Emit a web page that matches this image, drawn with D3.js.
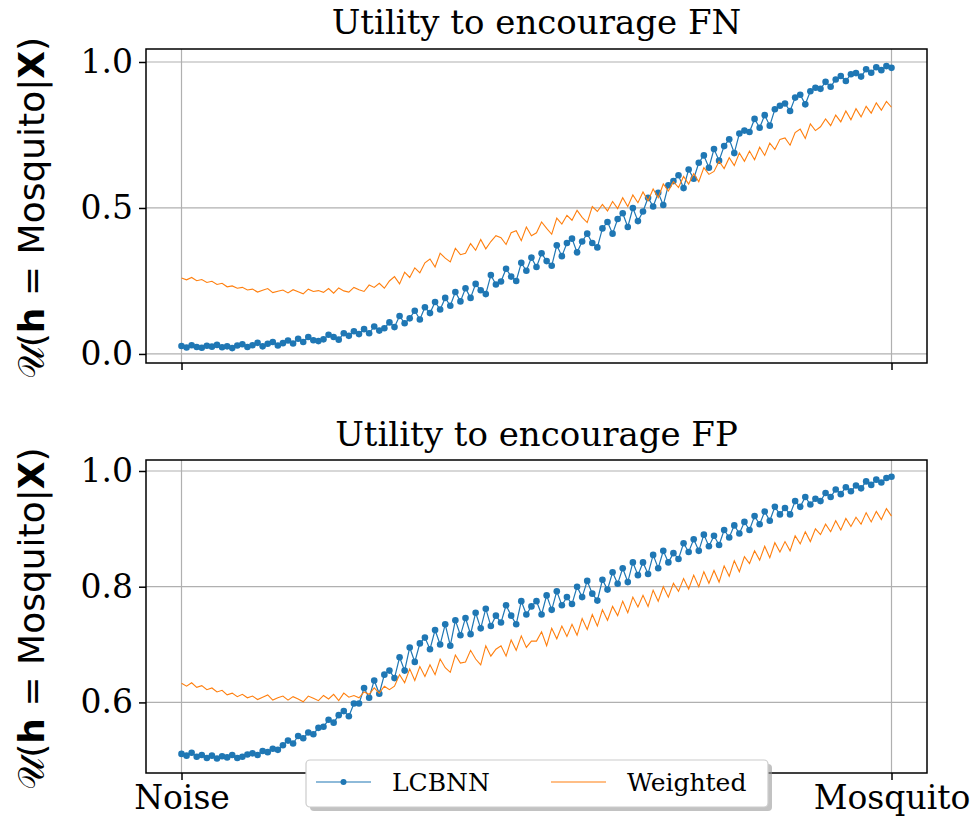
<!DOCTYPE html>
<html>
<head>
<meta charset="utf-8">
<script src="https://cdn.jsdelivr.net/npm/d3@7"></script>
<style>
  body { margin: 0; background: #fff; }
  svg { display: block; }
</style>
</head>
<body>
<div id="chart"></div>
<script>
// tick labels on the shared x axis
var xTickLabels = ['Noise', 'Mosquito'];
var seriesNames = ['LCBNN', 'Weighted'];
var panelTitles = ['Utility to encourage FN', 'Utility to encourage FP'];
var yTicksFN = [0.0, 0.5, 1.0];
var yTicksFP = [0.6, 0.8, 1.0];

// values, 141 samples from Noise to Mosquito
var lcbnnFN = [
  0.027,0.022,0.030,0.024,0.021,0.028,0.025, 0.031,0.023,0.026,0.020,0.029,0.033,0.024,
  0.030,0.038,0.026,0.035,0.041,0.029,0.037, 0.046,0.036,0.052,0.041,0.058,0.047,0.044,
  0.050,0.066,0.058,0.049,0.071,0.062,0.078, 0.068,0.085,0.071,0.094,0.080,0.088,0.108,
  0.092,0.130,0.105,0.122,0.148,0.118,0.160, 0.140,0.178,0.152,0.192,0.165,0.212,0.180,
  0.225,0.192,0.240,0.218,0.205,0.270,0.238, 0.248,0.292,0.265,0.250,0.312,0.285,0.330,
  0.298,0.345,0.318,0.302,0.372,0.335,0.380, 0.395,0.348,0.385,0.412,0.380,0.365,0.430,
  0.452,0.412,0.462,0.482,0.435,0.500,0.455, 0.488,0.535,0.505,0.552,0.510,0.578,0.592,
  0.612,0.568,0.632,0.600,0.655,0.680,0.638, 0.702,0.662,0.712,0.735,0.688,0.755,0.765,
  0.760,0.805,0.775,0.818,0.782,0.838,0.850, 0.858,0.832,0.878,0.888,0.855,0.900,0.912,
  0.908,0.932,0.915,0.940,0.952,0.935,0.958, 0.962,0.950,0.975,0.963,0.982,0.972,0.986,
  0.980
];
var weightedFN = [
  0.260,0.254,0.262,0.251,0.255,0.245,0.249, 0.238,0.242,0.230,0.233,0.225,0.228,0.219,
  0.222,0.212,0.218,0.224,0.210,0.215,0.219, 0.209,0.220,0.213,0.206,0.222,0.214,0.217,
  0.211,0.224,0.208,0.226,0.216,0.212,0.228, 0.220,0.214,0.236,0.228,0.242,0.225,0.250,
  0.265,0.240,0.280,0.262,0.295,0.278,0.312, 0.325,0.298,0.345,0.328,0.315,0.362,0.340,
  0.345,0.378,0.355,0.392,0.360,0.385,0.405, 0.398,0.375,0.415,0.422,0.388,0.435,0.405,
  0.415,0.452,0.430,0.410,0.465,0.445,0.475, 0.458,0.492,0.468,0.450,0.505,0.488,0.512,
  0.490,0.522,0.498,0.535,0.505,0.545,0.518, 0.555,0.525,0.565,0.535,0.582,0.558,0.590,
  0.570,0.608,0.582,0.618,0.590,0.638,0.615, 0.625,0.660,0.635,0.672,0.645,0.688,0.660,
  0.695,0.665,0.708,0.680,0.722,0.700,0.735, 0.740,0.715,0.758,0.770,0.738,0.788,0.765,
  0.778,0.805,0.782,0.818,0.795,0.832,0.802, 0.840,0.812,0.848,0.825,0.860,0.835,0.865,
  0.845
];
var lcbnnFP = [
  0.511,0.508,0.513,0.506,0.509,0.504,0.508, 0.503,0.507,0.505,0.509,0.504,0.506,0.510,
  0.512,0.509,0.516,0.514,0.520,0.518,0.526, 0.534,0.529,0.542,0.538,0.548,0.545,0.556,
  0.558,0.570,0.565,0.578,0.585,0.576,0.598, 0.598,0.625,0.608,0.638,0.615,0.648,0.655,
  0.642,0.678,0.655,0.695,0.670,0.702,0.712, 0.692,0.725,0.700,0.735,0.698,0.742,0.716,
  0.746,0.718,0.755,0.728,0.762,0.732,0.750, 0.738,0.768,0.750,0.735,0.775,0.752,0.766,
  0.775,0.752,0.785,0.760,0.792,0.768,0.782, 0.770,0.800,0.782,0.810,0.788,0.776,0.812,
  0.795,0.825,0.805,0.832,0.808,0.842,0.820, 0.842,0.822,0.855,0.832,0.862,0.842,0.858,
  0.848,0.875,0.860,0.882,0.862,0.890,0.870, 0.888,0.872,0.898,0.885,0.906,0.892,0.912,
  0.898,0.922,0.908,0.930,0.914,0.938,0.925, 0.936,0.925,0.948,0.938,0.955,0.942,0.952,
  0.948,0.962,0.955,0.968,0.960,0.972,0.965, 0.975,0.970,0.982,0.976,0.985,0.980,0.988,
  0.990
];
var weightedFP = [
  0.633,0.628,0.634,0.626,0.629,0.622,0.625, 0.618,0.621,0.613,0.616,0.610,0.614,0.608,
  0.611,0.605,0.609,0.613,0.604,0.608,0.611, 0.604,0.610,0.606,0.601,0.611,0.607,0.603,
  0.612,0.606,0.614,0.603,0.616,0.609,0.612, 0.608,0.618,0.614,0.625,0.616,0.628,0.622,
  0.628,0.648,0.634,0.658,0.638,0.662,0.645, 0.665,0.648,0.675,0.660,0.652,0.682,0.668,
  0.670,0.690,0.675,0.665,0.698,0.680,0.692, 0.698,0.680,0.708,0.690,0.715,0.695,0.706,
  0.706,0.722,0.698,0.728,0.710,0.732,0.714, 0.735,0.716,0.745,0.726,0.752,0.732,0.760,
  0.742,0.766,0.750,0.775,0.755,0.782,0.765, 0.785,0.766,0.794,0.775,0.800,0.782,0.806,
  0.792,0.814,0.796,0.820,0.800,0.826,0.806, 0.828,0.808,0.836,0.818,0.845,0.826,0.852,
  0.840,0.862,0.846,0.870,0.850,0.876,0.860, 0.878,0.862,0.888,0.874,0.895,0.878,0.900,
  0.890,0.908,0.895,0.914,0.898,0.918,0.904, 0.920,0.908,0.928,0.912,0.930,0.916,0.935,
  0.922
];

var width = 973, height = 821;
var blue = '#1f77b4', orange = '#ff7f0e';
var serif = 'DejaVu Serif, serif';

var svg = d3.select('#chart').append('svg')
    .attr('width', width)
    .attr('height', height);

var x = d3.scaleLinear().domain([-0.05, 1.05]).range([146, 927]);

// panel layout
var panels = [
  { title: panelTitles[0], top: 49, bottom: 363, domain: [-0.031, 1.0445], ticks: yTicksFN,
    a: lcbnnFN, b: weightedFN, showX: false, titleY: 34 },
  { title: panelTitles[1], top: 460, bottom: 773, domain: [0.478, 1.019], ticks: yTicksFP,
    a: lcbnnFP, b: weightedFP, showX: true, titleY: 446 }
];

panels.forEach(function(p, k) {
  var y = d3.scaleLinear().domain(p.domain).range([p.bottom, p.top]);
  var g = svg.append('g');
  var n = p.a.length;
  var pos = function(i) { return i / (n - 1); };

  // grid
  g.append('g').selectAll('line.hg')
    .data(p.ticks).enter().append('line')
    .attr('x1', x.range()[0]).attr('x2', x.range()[1])
    .attr('y1', d => y(d)).attr('y2', d => y(d))
    .attr('stroke', '#b0b0b0').attr('stroke-width', 1.2);
  g.append('g').selectAll('line.vg')
    .data([0, 1]).enter().append('line')
    .attr('x1', d => x(d)).attr('x2', d => x(d))
    .attr('y1', p.top).attr('y2', p.bottom)
    .attr('stroke', '#b0b0b0').attr('stroke-width', 1.2);

  var clipId = 'clip' + k;
  svg.append('clipPath').attr('id', clipId).append('rect')
    .attr('x', x.range()[0]).attr('y', p.top)
    .attr('width', x.range()[1] - x.range()[0]).attr('height', p.bottom - p.top);

  var plot = g.append('g').attr('clip-path', 'url(#' + clipId + ')');

  var line = d3.line().x((d, i) => x(pos(i))).y(d => y(d));

  // LCBNN: line with dots
  plot.append('path').datum(p.a)
    .attr('d', line).attr('fill', 'none')
    .attr('stroke', blue).attr('stroke-width', 1.2);
  plot.append('g').selectAll('circle')
    .data(p.a).enter().append('circle')
    .attr('cx', (d, i) => x(pos(i))).attr('cy', d => y(d))
    .attr('r', 3.3).attr('fill', blue);

  // Weighted: thin line
  plot.append('path').datum(p.b)
    .attr('d', line).attr('fill', 'none')
    .attr('stroke', orange).attr('stroke-width', 1.1);

  // frame
  g.append('rect')
    .attr('x', x.range()[0]).attr('y', p.top)
    .attr('width', x.range()[1] - x.range()[0]).attr('height', p.bottom - p.top)
    .attr('fill', 'none').attr('stroke', '#000').attr('stroke-width', 1.5);

  // y axis
  var yAxis = d3.axisLeft(y).tickValues(p.ticks).tickFormat(d3.format('.1f'))
    .tickSize(7).tickPadding(6);
  var ya = g.append('g').attr('transform', 'translate(' + x.range()[0] + ',0)').call(yAxis);
  ya.select('.domain').remove();
  ya.selectAll('line').attr('stroke-width', 1.5);
  ya.selectAll('text').attr('font-family', serif).attr('font-size', 33).attr('fill', '#000');

  // x axis
  var xAxis = d3.axisBottom(x).tickValues([0, 1])
    .tickFormat((d, i) => p.showX ? xTickLabels[i] : '')
    .tickSize(7).tickPadding(6);
  var xa = g.append('g').attr('transform', 'translate(0,' + p.bottom + ')').call(xAxis);
  xa.select('.domain').remove();
  xa.selectAll('line').attr('stroke-width', 1.5);
  xa.selectAll('text').attr('font-family', serif).attr('font-size', 33).attr('fill', '#000');

  // title
  g.append('text')
    .attr('x', (x.range()[0] + x.range()[1]) / 2).attr('y', p.titleY)
    .attr('text-anchor', 'middle')
    .attr('font-family', serif).attr('font-size', 34)
    .text(p.title);

  // y label
  var lab = g.append('text')
    .attr('transform', 'translate(44,' + ((p.top + p.bottom) / 2 + 2) + ') rotate(-90)')
    .attr('text-anchor', 'middle')
    .attr('font-family', 'DejaVu Sans, sans-serif').attr('font-size', 36);
  lab.append('tspan').text('\u{1D4B0}(');
  lab.append('tspan').attr('font-weight', 'bold').text('h');
  lab.append('tspan').text(' = Mosquito|');
  lab.append('tspan').attr('font-weight', 'bold').text('X');
  lab.append('tspan').text(')');
});

// legend
var lg = svg.append('g');
lg.append('rect')
  .attr('x', 310).attr('y', 764).attr('width', 462).attr('height', 47).attr('rx', 4)
  .attr('fill', '#999').attr('opacity', 0.6);
lg.append('rect')
  .attr('x', 306).attr('y', 760).attr('width', 462).attr('height', 47).attr('rx', 4)
  .attr('fill', '#fff').attr('stroke', '#ccc').attr('stroke-width', 1.2);

var items = [
  { name: seriesNames[0], color: blue, x0: 316, dot: true },
  { name: seriesNames[1], color: orange, x0: 551, dot: false }
];
items.forEach(function(it) {
  lg.append('line')
    .attr('x1', it.x0).attr('x2', it.x0 + 55).attr('y1', 782).attr('y2', 782)
    .attr('stroke', it.color).attr('stroke-width', 1.2);
  if (it.dot) {
    lg.append('circle').attr('cx', it.x0 + 27.5).attr('cy', 782).attr('r', 3).attr('fill', it.color);
  }
  lg.append('text')
    .attr('x', it.x0 + 76).attr('y', 791)
    .attr('font-family', serif).attr('font-size', 25)
    .text(it.name);
});
</script>
</body>
</html>
